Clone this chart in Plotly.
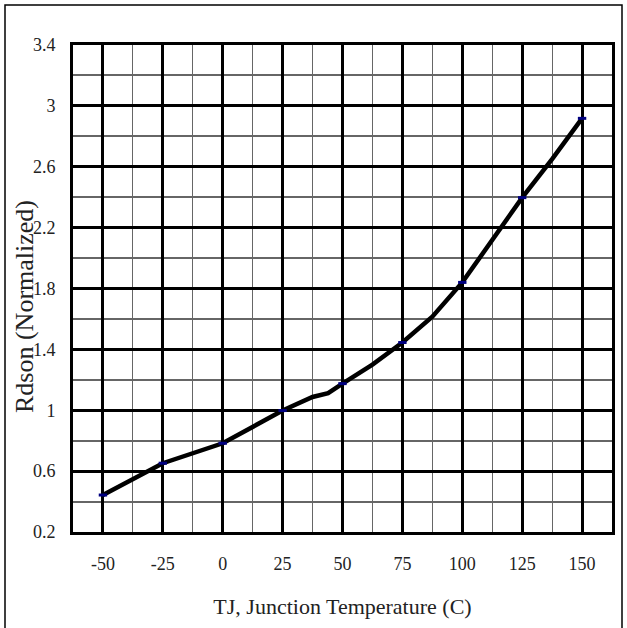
import plotly.graph_objects as go

# Data
temp_curve = [-50, -25, 0, 25, 37.5, 44, 50, 62.5, 75, 87.5, 100, 112.5, 125, 137.5, 150]
rdson_curve = [0.443, 0.652, 0.783, 0.998, 1.087, 1.112, 1.175, 1.30, 1.445, 1.615, 1.84, 2.118, 2.397, 2.65, 2.918]

temp_marks = [-50, -25, 0, 25, 50, 75, 100, 125, 150]
rdson_marks = [0.443, 0.652, 0.783, 0.998, 1.175, 1.445, 1.84, 2.397, 2.918]

x_ticks = [-50, -25, 0, 25, 50, 75, 100, 125, 150]
x_labels = ["-50", "-25", "0", "25", "50", "75", "100", "125", "150"]
y_ticks = [0.2, 0.6, 1.0, 1.4, 1.8, 2.2, 2.6, 3.0, 3.4]
y_labels = ["0.2", "0.6", "1", "1.4", "1.8", "2.2", "2.6", "3", "3.4"]

x_title = "TJ, Junction Temperature (C)"
y_title = "Rdson (Normalized)"

FONT = "Liberation Serif"
TXT = "#222"

fig = go.Figure()
fig.add_trace(go.Scatter(x=temp_curve, y=rdson_curve, mode="lines",
                         line=dict(color="black", width=4.5), hoverinfo="skip"))
fig.add_trace(go.Scatter(x=temp_marks, y=rdson_marks, mode="markers",
                         marker=dict(symbol="line-ew", size=6,
                                     line=dict(color="#000080", width=3)),
                         hoverinfo="skip"))

L, R, T, B = 73, 15, 45, 96
W, H = 627, 628
pw, ph = W - L - R, H - T - B

fig.update_layout(
    width=W, height=H,
    margin=dict(l=L, r=R, t=T, b=B, pad=0),
    paper_bgcolor="white", plot_bgcolor="white",
    showlegend=False,
    font=dict(family=FONT, color=TXT, size=18),
    xaxis=dict(
        range=[-62.5, 162.5], tickvals=x_ticks, ticktext=x_labels,
        showgrid=True, gridcolor="black", gridwidth=3,
        minor=dict(tick0=-62.5, dtick=12.5, showgrid=True, gridcolor="#666", gridwidth=1),
        showline=True, mirror=True, linecolor="black", linewidth=3,
        ticks="", zeroline=False, ticklabelstandoff=13,
        title=dict(text=x_title, font=dict(family=FONT, size=22, color=TXT), standoff=27),
        fixedrange=True,
    ),
    yaxis=dict(
        range=[0.2, 3.4], tickvals=y_ticks, ticktext=y_labels,
        showgrid=True, gridcolor="black", gridwidth=3,
        minor=dict(tick0=0.2, dtick=0.2, showgrid=True, gridcolor="#666", gridwidth=1.5),
        showline=True, mirror=True, linecolor="black", linewidth=3,
        ticks="", zeroline=False, ticklabelstandoff=11,
        fixedrange=True,
    ),
)

# y-axis title, placed slightly below the plot centre as in the reference
fig.add_annotation(text=y_title, textangle=-90, showarrow=False,
                   xref="paper", yref="paper",
                   x=(24 - L) / pw, y=(T + ph - 307) / ph,
                   xanchor="center", yanchor="middle",
                   font=dict(family=FONT, size=26, color=TXT))

# outer frame around whole image
fig.add_shape(type="rect", xref="paper", yref="paper",
              x0=(5 - L) / pw, x1=(622 - L) / pw,
              y0=(T + ph - 640) / ph, y1=(T + ph - 5) / ph,
              line=dict(color="black", width=1.5), layer="above")

fig.write_html("out.html")
